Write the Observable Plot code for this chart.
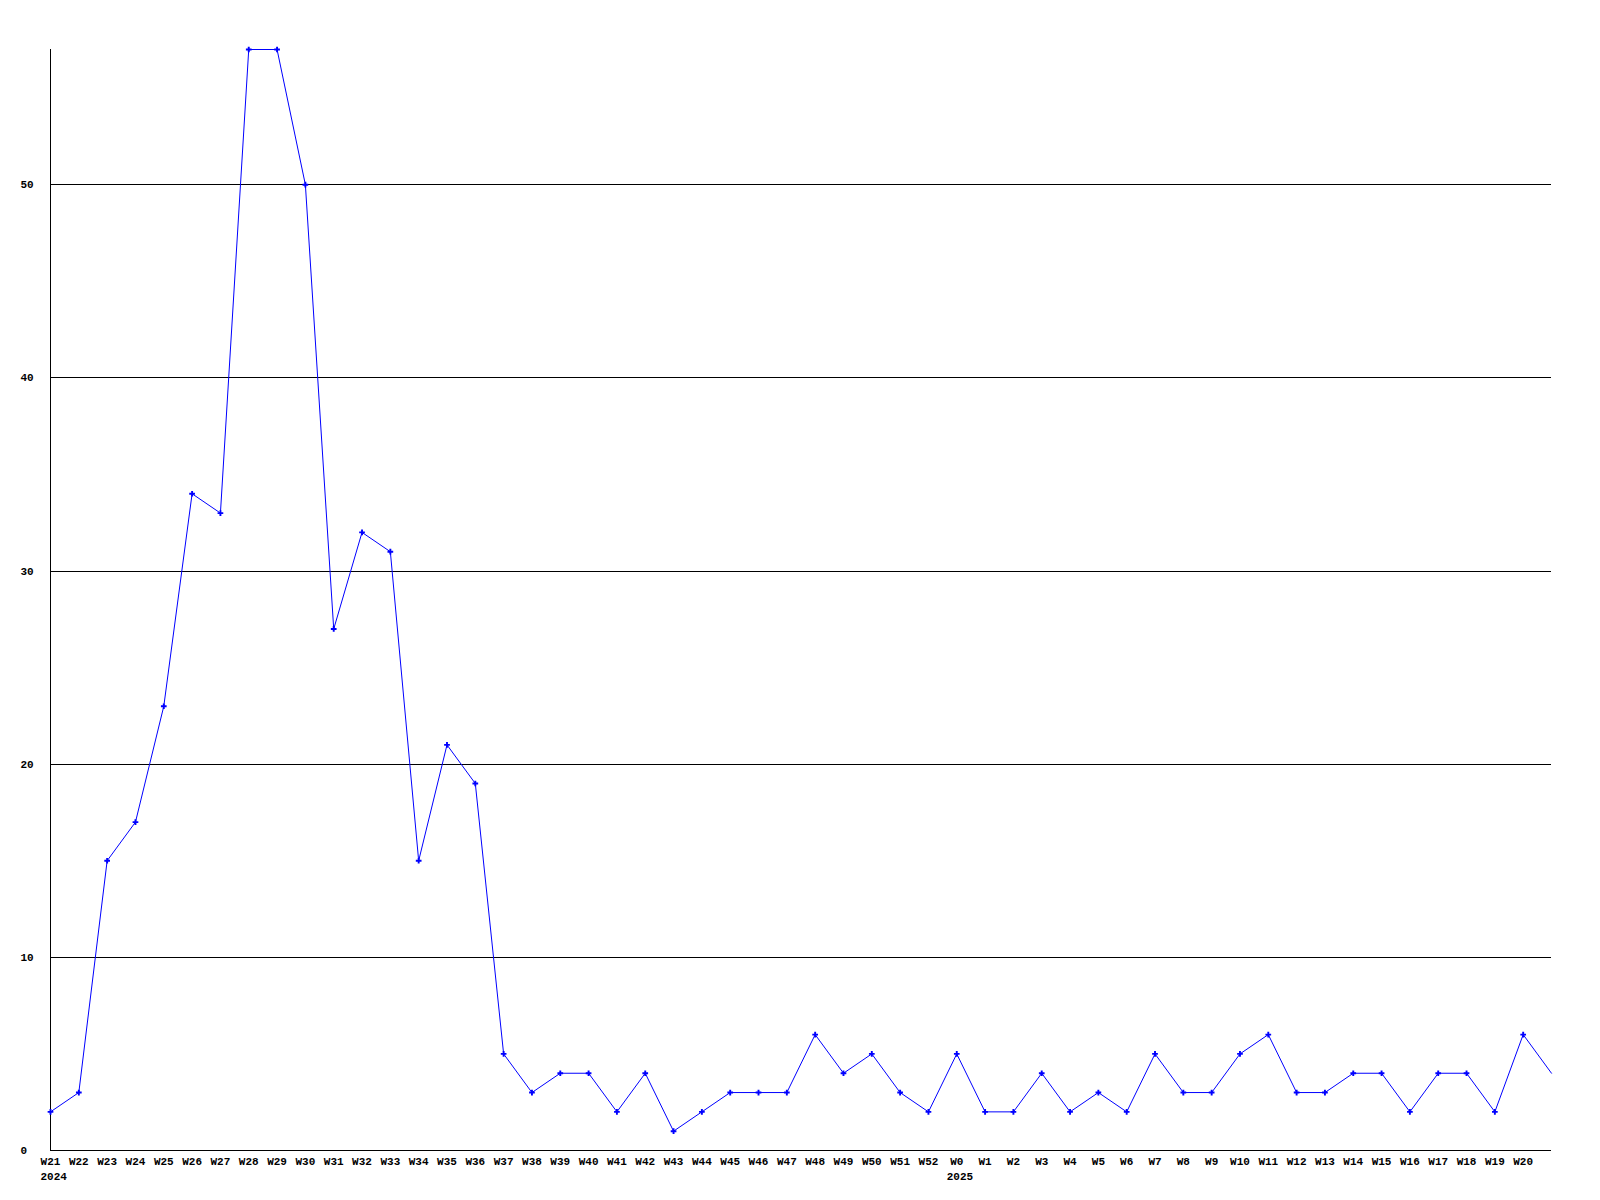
<!DOCTYPE html>
<html>
<head>
<meta charset="utf-8">
<script src="https://cdn.jsdelivr.net/npm/d3@7"></script>
<script src="https://cdn.jsdelivr.net/npm/@observablehq/plot@0.6"></script>
<style>
  html, body { margin: 0; padding: 0; background: #fff; }
  #chart svg { display: block; }
</style>
</head>
<body>
<div id="chart"></div>
<script>
const weeks = ["W21","W22","W23","W24","W25","W26","W27","W28","W29","W30","W31","W32","W33","W34","W35","W36","W37","W38","W39","W40","W41","W42","W43","W44","W45","W46","W47","W48","W49","W50","W51","W52","W0","W1","W2","W3","W4","W5","W6","W7","W8","W9","W10","W11","W12","W13","W14","W15","W16","W17","W18","W19","W20",""];
const counts = [2,3,15,17,23,34,33,57,57,50,27,32,31,15,21,19,5,3,4,4,2,4,1,2,3,3,3,6,4,5,3,2,5,2,2,4,2,3,2,5,3,3,5,6,3,3,4,4,2,4,4,2,6,4];
const yTicks = [0,10,20,30,40,50];
const gridValues = [10,20,30,40,50];
const years = [{week: "W21", year: "2024"}, {week: "W0", year: "2025"}];

const data = weeks.map((w, i) => ({i, week: w, value: counts[i]}));
const labeled = data.filter(d => d.week !== "");
const yearData = years.map(y => ({...y, i: weeks.indexOf(y.week)}));

const font = "bold 11px 'Liberation Mono', 'DejaVu Sans Mono', monospace";

const chart = Plot.plot({
  width: 1600,
  height: 1200,
  marginLeft: 50,
  marginRight: 49,
  marginTop: 49,
  marginBottom: 50,
  style: {background: "#fff", font},
  x: {domain: [0, weeks.length - 1], axis: null},
  y: {domain: [0, 57], axis: null},
  marks: [
    Plot.ruleY(gridValues, {stroke: "#000", strokeWidth: 1, shapeRendering: "crispEdges"}),
    Plot.ruleY([0], {stroke: "#000", strokeWidth: 1, shapeRendering: "crispEdges"}),
    Plot.ruleX([0], {y1: 0, y2: 57, stroke: "#000", strokeWidth: 1, shapeRendering: "crispEdges"}),
    Plot.line(data, {x: "i", y: "value", stroke: "#0000ff", strokeWidth: 1}),
    Plot.dot(labeled, {x: "i", y: "value", symbol: "cross", r: 2.4, fill: "#0000ff", stroke: "none"}),
    Plot.text(yTicks, {y: d => d, text: d => String(d), frameAnchor: "left", dx: -30, textAnchor: "start", fill: "#000"}),
    Plot.text(labeled, {x: "i", text: "week", frameAnchor: "bottom", dy: 14.5, textAnchor: "middle", fill: "#000"}),
    Plot.text(yearData, {x: "i", text: "year", frameAnchor: "bottom", dy: 29.5, dx: -10, textAnchor: "start", fill: "#000"})
  ]
});
document.getElementById("chart").appendChild(chart);
</script>
</body>
</html>
